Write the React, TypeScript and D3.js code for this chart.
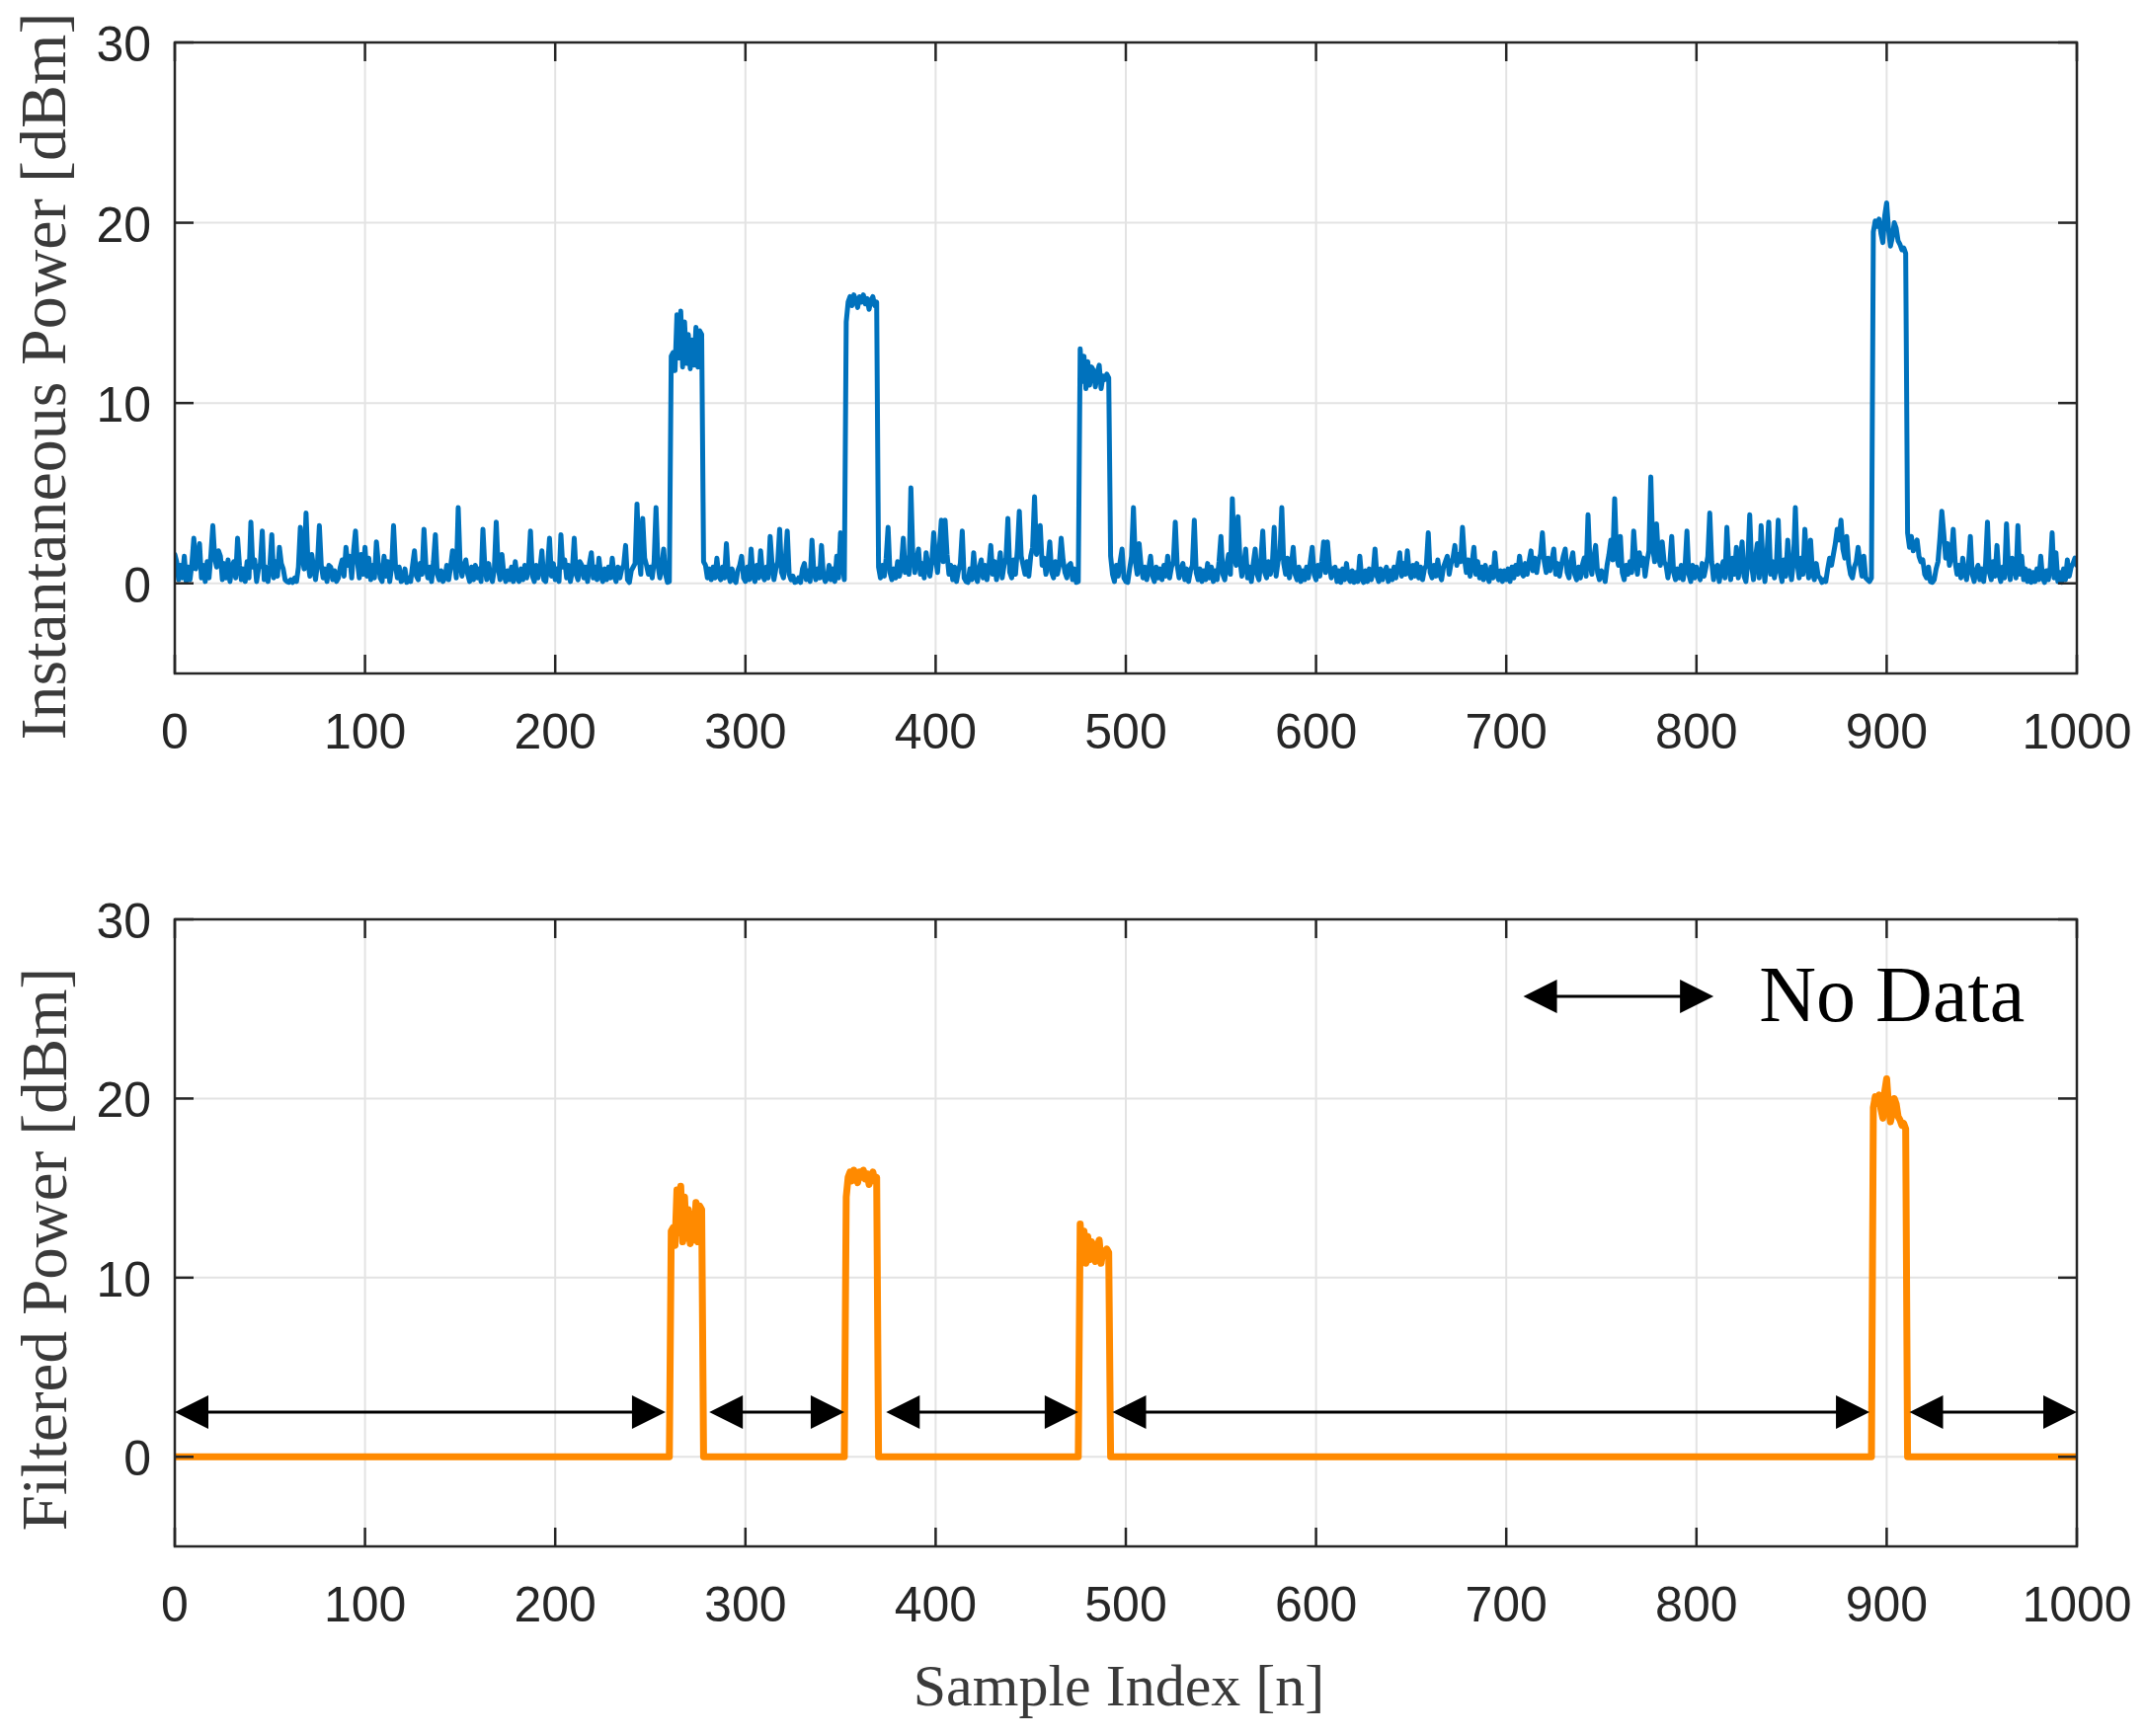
import React from 'react';
import * as d3 from 'd3';

// ---------- data ----------
const xTicks = [0, 100, 200, 300, 400, 500, 600, 700, 800, 900, 1000];
const yTicks = [0, 10, 20, 30];
const xDomain = [0, 1000];
const yDomain = [-5, 30];

// samples 0–260
const noise0 = [
  1.6, 1.2, 0.2, 1.0, 0.3, 1.5, 0.1, 0.9, 0.2, 1.1,
  2.5, 0.8, 1.3, 2.2, 0.3, 1.0, 0.1, 1.2, 0.3, 1.6,
  3.2, 1.4, 0.9, 1.8, 1.5, 0.2, 1.1, 0.3, 1.3, 0.1,
  0.9, 1.2, 0.3, 2.5, 1.0, 0.2, 0.8, 0.1, 1.2, 0.3,
  3.4, 0.9, 1.3, 0.1, 0.8, 1.1, 2.9, 0.2, 0.9, 0.1,
  1.0, 2.7, 0.3, 1.2, 0.4, 2.0, 1.1, 0.8, 0.2, 0.1,
  0.05, 0.2, 0.05, 0.3, 0.1, 0.9, 3.1, 1.5, 0.8, 3.9,
  1.2, 0.4, 1.6, 0.9, 0.2, 1.1, 3.2, 1.0, 0.3, 0.8,
  0.1, 1.0, 0.9, 0.2, 0.7, 0.1, 0.3, 0.9, 1.3, 0.4,
  2.0, 1.0, 1.5, 0.3, 1.8, 2.9, 1.2, 0.3, 1.6, 0.5,
  2.0, 0.4, 1.4, 0.2, 1.0, 0.3, 2.3, 1.1, 0.3, 0.1,
  1.5, 0.4, 1.2, 0.1, 0.9, 3.2, 1.0, 0.3, 0.9, 0.1,
  0.2, 0.8, 0.05, 0.3, 0.1, 1.0, 1.8, 0.4, 0.2, 1.1,
  0.5, 3.0, 1.0, 0.3, 0.9, 0.1, 1.2, 2.7, 0.5, 0.2,
  0.7, 0.1, 0.3, 1.0, 0.2, 0.9, 1.8, 1.2, 0.3, 4.2,
  1.1, 0.4, 1.0, 1.3, 0.5, 0.1, 0.9, 0.2, 1.0, 0.3,
  0.8, 0.1, 3.0, 0.9, 0.2, 1.1, 0.4, 0.1, 0.8, 3.4,
  0.9, 0.2, 1.6, 0.5, 0.1, 0.7, 0.2, 0.9, 0.1, 1.2,
  0.3, 0.1, 0.8, 0.2, 1.0, 0.3, 0.9, 2.9, 0.4, 0.1,
  1.0, 0.3, 0.8, 1.8, 0.2, 0.1, 0.9, 2.5, 0.4, 1.1,
  0.2, 0.8, 0.1, 2.7, 0.9, 1.3, 0.3, 1.0, 0.1, 0.7,
  2.5, 0.5, 0.2, 1.2, 1.0, 0.3, 0.9, 0.1, 1.1, 1.7,
  0.3, 0.9, 0.2, 1.4, 0.4, 0.1, 0.8, 0.2, 0.9, 0.3,
  1.4, 0.4, 0.1, 0.9, 0.3, 0.8, 1.0, 2.1, 0.2, 0.05,
  0.7, 0.9, 1.1, 4.4, 1.6, 0.5, 3.6, 1.4, 1.0, 0.5,
  0.9, 0.3, 1.2, 4.2, 1.0, 0.3, 0.9, 1.9, 0.5, 0.05,
  0.1,
];
// samples 261–277
const burst1 = [12.6, 12.8, 11.8, 14.9, 12.5, 15.1, 12.0, 14.5, 12.2, 13.8, 11.9, 13.5, 12.1, 14.2, 12.0, 14.0, 13.8];
// samples 278–352
const noise1 = [
  1.2, 1.0, 0.3, 0.8, 0.2, 0.9, 0.3, 1.4, 0.4, 0.2,
  0.9, 0.3, 2.2, 0.5, 0.1, 0.8, 0.2, 0.05, 0.7, 1.0,
  1.5, 0.3, 0.1, 0.9, 0.2, 1.9, 0.4, 0.1, 1.0, 0.3,
  1.8, 0.5, 0.2, 0.9, 0.3, 2.6, 1.1, 0.2, 0.8, 1.2,
  3.0, 0.6, 0.3, 1.3, 2.9, 0.5, 0.2, 0.4, 0.05, 0.1,
  0.3, 0.05, 0.8, 1.1, 0.2, 0.7, 0.1, 2.4, 0.6, 0.2,
  0.8, 0.3, 2.1, 0.4, 0.1, 0.3, 1.0, 0.2, 0.8, 0.1,
  1.5, 0.3, 2.8, 1.2, 0.2,
];
// samples 353–369
const burst2 = [14.5, 15.6, 15.9, 15.4, 16.0, 15.7, 15.3, 15.9, 15.6, 16.0, 15.5, 15.8, 15.2, 15.7, 15.9, 15.4, 15.6];
// samples 370–475
const noise2 = [
  0.9, 0.3, 1.0, 0.4, 1.4, 3.1, 0.6, 0.2, 0.8, 0.3,
  1.2, 0.4, 1.0, 2.5, 0.6, 1.4, 0.5, 5.3, 1.6, 0.6,
  1.3, 1.9, 0.5, 1.1, 0.3, 1.7, 1.0, 0.4, 1.2, 2.8,
  1.4, 0.6, 2.0, 3.5, 1.2, 3.5, 1.6, 0.5, 1.0, 0.2,
  0.9, 0.1, 0.7, 1.1, 2.9, 0.3, 0.1, 0.05, 0.8, 0.2,
  1.7, 0.4, 0.1, 0.9, 1.3, 0.3, 1.0, 0.2, 0.9, 2.1,
  0.5, 1.2, 0.2, 0.9, 1.7, 0.3, 1.0, 1.4, 3.6, 0.6,
  0.3, 1.3, 0.5, 1.9, 4.0, 1.5, 1.0, 0.5, 1.2, 0.4,
  1.5, 2.0, 4.8, 1.6, 2.2, 3.2, 1.0, 1.4, 0.5, 1.1,
  2.3, 0.6, 0.3, 1.2, 0.5, 1.0, 2.5, 1.3, 0.6, 0.3,
  1.0, 1.1, 0.2, 0.8, 0.05, 0.1,
];
// samples 476–491
const burst3 = [13.0, 11.2, 12.6, 10.8, 12.3, 11.0, 12.0, 11.8, 10.9, 11.7, 12.1, 10.8, 11.5, 11.3, 11.6, 11.4];
// samples 492–892
const noise3 = [
  1.5, 0.5, 0.1, 1.0, 0.4, 1.2, 1.9, 0.3, 0.1, 0.05,
  0.8, 1.5, 4.2, 1.2, 0.5, 2.2, 1.0, 0.3, 0.9, 0.2,
  0.8, 1.5, 0.4, 0.1, 0.9, 0.3, 0.8, 0.2, 1.0, 0.4,
  1.5, 0.3, 0.9, 1.2, 3.4, 1.0, 0.3, 0.8, 1.1, 0.2,
  0.8, 0.1, 0.7, 1.0, 3.5, 0.6, 0.2, 0.8, 0.1, 0.7,
  0.2, 1.1, 0.3, 0.9, 0.1, 0.7, 0.2, 1.2, 2.6, 0.5,
  0.2, 1.0, 1.6, 0.5, 4.7, 1.5, 1.0, 3.7, 1.3, 0.4,
  1.0, 1.9, 0.3, 0.9, 0.1, 1.1, 1.9, 0.5, 0.2, 1.3,
  2.9, 0.6, 0.3, 1.2, 0.5, 1.0, 3.1, 0.4, 1.2, 1.6,
  4.2, 1.1, 0.5, 1.4, 0.3, 1.0, 2.0, 0.5, 0.2, 0.9,
  0.1, 0.7, 0.2, 0.9, 0.3, 1.2, 2.0, 0.5, 0.2, 1.0,
  0.4, 1.2, 2.3, 0.6, 2.3, 1.0, 0.3, 0.8, 0.9, 0.1,
  0.7, 0.05, 0.8, 0.2, 1.1, 0.3, 0.1, 0.7, 0.05, 0.6,
  0.1, 1.5, 0.3, 0.05, 0.7, 0.1, 0.8, 0.2, 0.6, 1.9,
  0.4, 0.1, 0.8, 0.2, 0.6, 0.9, 0.1, 0.7, 0.2, 0.9,
  0.3, 1.0, 1.7, 0.4, 1.1, 0.5, 1.8, 0.6, 0.3, 1.0,
  0.4, 1.1, 0.3, 0.9, 0.2, 0.8, 1.0, 2.8, 0.6, 0.3,
  1.0, 0.4, 1.3, 0.5, 0.2, 0.9, 1.2, 1.5, 0.5, 1.1,
  1.4, 2.1, 1.0, 1.6, 1.2, 3.1, 1.4, 0.6, 1.3, 0.4,
  1.1, 2.0, 0.5, 1.2, 0.3, 0.9, 0.2, 1.0, 0.4, 0.1,
  0.9, 0.3, 1.7, 0.5, 0.2, 0.7, 0.1, 0.7, 0.2, 0.8,
  0.1, 0.9, 0.3, 1.0, 0.5, 1.5, 0.6, 0.4, 1.1, 0.5,
  1.2, 1.8, 0.7, 1.4, 0.6, 1.3, 1.6, 2.8, 1.2, 0.6,
  1.4, 0.7, 1.3, 1.9, 0.5, 1.1, 0.4, 1.0, 1.5, 1.9,
  0.6, 0.3, 1.2, 1.7, 0.5, 0.2, 0.9, 0.3, 1.0, 1.4,
  0.4, 3.8, 1.2, 0.5, 1.4, 2.1, 0.6, 0.2, 0.7, 0.5,
  0.1, 1.0, 1.6, 2.4, 1.3, 4.7, 1.5, 1.0, 2.6, 0.6,
  0.2, 1.0, 0.5, 1.2, 0.6, 2.9, 1.3, 0.5, 1.7, 1.0,
  1.4, 0.4, 1.2, 1.8, 5.9, 2.0, 1.2, 3.3, 1.5, 1.0,
  2.3, 1.2, 1.0, 0.3, 1.1, 2.6, 0.6, 0.2, 0.8, 0.3,
  1.0, 0.2, 0.9, 2.9, 0.5, 0.1, 1.0, 0.3, 0.9, 0.5,
  0.2, 1.1, 0.4, 0.9, 1.5, 3.9, 1.2, 0.2, 0.9, 1.0,
  0.1, 0.8, 1.2, 0.3, 3.1, 1.0, 0.2, 1.4, 0.5, 2.0,
  0.3, 1.1, 2.3, 0.4, 0.1, 1.2, 3.8, 1.0, 0.2, 1.4,
  2.2, 0.3, 3.2, 1.1, 0.1, 1.5, 3.4, 0.5, 1.2, 0.3,
  1.0, 3.5, 0.6, 0.1, 1.3, 0.4, 2.4, 1.0, 0.2, 1.2,
  4.2, 1.1, 0.3, 1.4, 0.5, 3.0, 1.2, 0.3, 2.4, 0.6,
  0.2, 1.1, 0.4, 0.3, 0.05, 0.2, 0.1, 0.8, 1.4, 1.0,
  1.6, 2.2, 3.0, 2.4, 3.5, 1.9, 1.4, 2.6, 1.1, 0.5,
  0.3, 0.9, 1.2, 2.0, 1.1, 0.4, 1.5, 0.3, 0.2, 0.1,
  0.3,
];
// samples 893–910
const burst4 = [19.5, 20.1, 19.8, 20.2, 19.4, 18.9, 20.4, 21.1, 19.6, 18.7, 19.2, 20.0, 19.7, 19.0, 18.8, 18.5, 18.6, 18.3];
// samples 911–1000
const noise4 = [
  2.8, 2.0, 2.6, 1.8, 2.2, 2.4, 1.5, 1.2, 1.3, 0.5,
  0.3, 0.9, 0.1, 0.05, 0.2, 0.8, 1.2, 2.5, 4.0, 2.8,
  1.4, 2.2, 1.0, 1.5, 3.0, 1.2, 0.5, 1.0, 0.3, 1.4,
  0.6, 0.2, 1.0, 2.6, 0.5, 0.1, 0.7, 1.0, 0.2, 0.8,
  0.1, 1.1, 3.4, 0.6, 0.2, 1.2, 0.4, 2.1, 0.5, 0.1,
  0.9, 0.3, 3.3, 1.0, 0.2, 1.4, 1.2, 0.3, 3.2, 0.5,
  1.5, 0.2, 0.8, 0.1, 0.7, 0.05, 0.6, 0.1, 0.8, 0.2,
  1.5, 0.3, 0.05, 0.7, 0.2, 0.9, 2.8, 0.3, 1.7, 0.1,
  0.6, 0.05, 0.8, 0.2, 1.3, 0.4, 0.9, 1.1, 1.4, 1.0,
];

const noiseSegments = [noise0, noise1, noise2, noise3, noise4];
const burstSegments = [burst1, burst2, burst3, burst4];

// "No Data" gaps (sample index ranges)
const gapStarts = [0, 281, 374, 493, 912];
const gapEnds = [258, 352, 475, 891, 1000];
const gapLevel = 2.5;
const legendArrow = [709, 809];
const legendLevel = 25.7;
const legendTextX = 833;
const legendTextY = 24.3;

// assemble series
const instantaneous: number[] = [];
const filtered: number[] = [];
noiseSegments.forEach((seg, i) => {
  seg.forEach((v) => { instantaneous.push(v); filtered.push(0); });
  if (i < burstSegments.length) {
    burstSegments[i].forEach((v) => { instantaneous.push(v); filtered.push(v); });
  }
});

// ---------- layout ----------
const W = 2173, H = 1758;
const left = 177, right = 2103;
const panels = [
  { top: 43, bottom: 682, data: instantaneous, color: '#0072BD', width: 5,
    title: 'Instantaneous Power [dBm]', titleX: 66, titleY: 381, titleSize: 66 },
  { top: 931, bottom: 1566, data: filtered, color: '#FF8A00', width: 7,
    title: 'Filtered Power [dBm]', titleX: 67, titleY: 1265, titleSize: 65 },
];

const axisColor = '#262626';
const gridColor = '#e3e3e3';
const sans = '"Liberation Sans", Arial, Helvetica, sans-serif';
const serif = '"Liberation Serif", "Times New Roman", serif';

function Arrow({ x1, x2, y }: { x1: number; x2: number; y: number }) {
  const hl = 34, hw = 17;
  return (
    <g>
      <line x1={x1 + hl - 2} x2={x2 - hl + 2} y1={y} y2={y} stroke="#000" strokeWidth={3} />
      <polygon points={`${x1},${y} ${x1 + hl},${y - hw} ${x1 + hl},${y + hw}`} fill="#000" />
      <polygon points={`${x2},${y} ${x2 - hl},${y - hw} ${x2 - hl},${y + hw}`} fill="#000" />
    </g>
  );
}

function Panel({ p, idx }: { p: typeof panels[number]; idx: number }) {
  const x = d3.scaleLinear().domain(xDomain).range([left, right]);
  const y = d3.scaleLinear().domain(yDomain).range([p.bottom, p.top]);
  const line = d3.line<number>().x((_, i) => x(i)).y((v) => y(v));
  const clipId = `clip${idx}`;
  return (
    <g>
      <defs>
        <clipPath id={clipId}>
          <rect x={left} y={p.top} width={right - left} height={p.bottom - p.top} />
        </clipPath>
      </defs>
      {xTicks.map((t) => (
        <line key={`gx${t}`} x1={x(t)} x2={x(t)} y1={p.top} y2={p.bottom} stroke={gridColor} strokeWidth={2} />
      ))}
      {yTicks.map((t) => (
        <line key={`gy${t}`} x1={left} x2={right} y1={y(t)} y2={y(t)} stroke={gridColor} strokeWidth={2} />
      ))}
      <path d={line(p.data) || ''} fill="none" stroke={p.color} strokeWidth={p.width}
        strokeLinejoin="round" strokeLinecap="round" clipPath={`url(#${clipId})`} />
      <rect x={left} y={p.top} width={right - left} height={p.bottom - p.top} fill="none" stroke={axisColor} strokeWidth={2.5} />
      {xTicks.map((t) => (
        <g key={`tx${t}`}>
          <line x1={x(t)} x2={x(t)} y1={p.bottom} y2={p.bottom - 19} stroke={axisColor} strokeWidth={2.5} />
          <line x1={x(t)} x2={x(t)} y1={p.top} y2={p.top + 19} stroke={axisColor} strokeWidth={2.5} />
          <text x={x(t)} y={p.bottom + 76} textAnchor="middle" fontFamily={sans} fontSize={50} fill={axisColor}>{t}</text>
        </g>
      ))}
      {yTicks.map((t) => (
        <g key={`ty${t}`}>
          <line x1={left} x2={left + 19} y1={y(t)} y2={y(t)} stroke={axisColor} strokeWidth={2.5} />
          <line x1={right} x2={right - 19} y1={y(t)} y2={y(t)} stroke={axisColor} strokeWidth={2.5} />
          <text x={left - 24} y={y(t) + 19} textAnchor="end" fontFamily={sans} fontSize={50} fill={axisColor}>{t}</text>
        </g>
      ))}
      <text transform={`translate(${p.titleX},${p.titleY}) rotate(-90)`} textAnchor="middle"
        fontFamily={serif} fontSize={p.titleSize} fill="#3a3a3a">{p.title}</text>
      {idx === 1 && (
        <g>
          {gapStarts.map((s, i) => (
            <Arrow key={`a${i}`} x1={x(s)} x2={x(gapEnds[i])} y={y(gapLevel)} />
          ))}
          <Arrow x1={x(legendArrow[0])} x2={x(legendArrow[1])} y={y(legendLevel)} />
          <text x={x(legendTextX)} y={y(legendTextY)} fontFamily={serif} fontSize={80} fill="#000">No Data</text>
        </g>
      )}
    </g>
  );
}

export default function App() {
  return (
    <svg width={W} height={H} viewBox={`0 0 ${W} ${H}`}
      style={{ position: 'absolute', left: 0, top: 0, background: '#fff' }}>
      <rect x={0} y={0} width={W} height={H} fill="#fff" />
      {panels.map((p, i) => <Panel key={i} p={p} idx={i} />)}
      <text x={1133} y={1727} textAnchor="middle" fontFamily={serif} fontSize={60} fill="#3a3a3a">Sample Index [n]</text>
    </svg>
  );
}
